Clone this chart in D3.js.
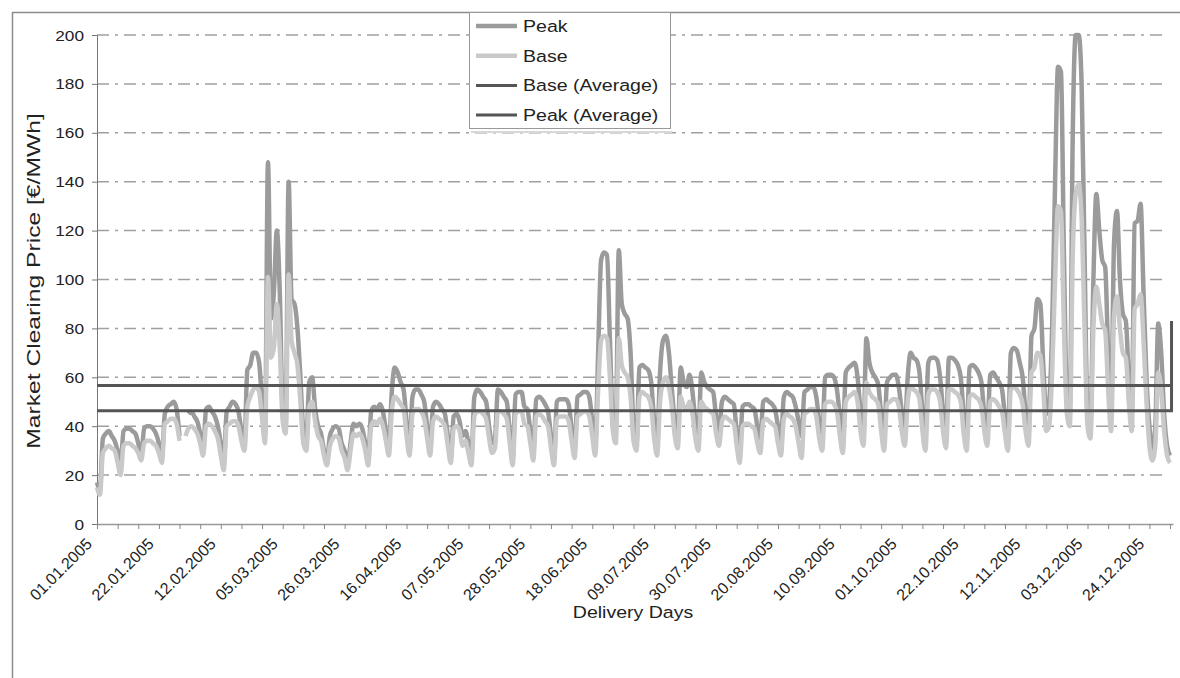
<!DOCTYPE html>
<html>
<head>
<meta charset="utf-8">
<script src="https://cdn.jsdelivr.net/npm/d3@7"></script>
<style>
  body { margin: 0; background: #fff; }
  svg { display: block; font-family: "Liberation Sans", Arial, sans-serif; }
</style>
</head>
<body>
<div id="chart"></div>
<script>
// daily market clearing prices 2005 (EUR/MWh), Sat 01.01 first
var peak = [
  17, 14,
  35, 37, 38, 36, 34, 30, 24,
  38, 39, 39, 38, 37, 33, 28,
  39, 40, 40, 39, 37, 33, 27,
  45, 48, 49, 50, 47, 36, null,
  null, 45, 46, 44, 42, 37, 30,
  47, 48, 46, 44, 40, 33, 25,
  46, 48, 50, 49, 46, 38, 32,
  63, 65, 70, 70, 66, 50, 36,
  148, 84, 95, 120, 95, 45, 40,
  140, 92, 90, 80, 60, 38, 34,
  58, 60, 47, 40, 37, 30, 26,
  36, 39, 40, 39, 33, 30, 24,
  33, 41, 40, 41, 39, 33, 26,
  46, 48, 47, 49, 46, 38, 31,
  54, 64, 62, 58, 55, 42, 30,
  52, 55, 55, 53, 50, 40, 32,
  48, 50, 49, 47, 45, 36, 27,
  44, 45, 42, 36, 38, 33, 27,
  52, 55, 54, 52, 50, 40, 33,
  35, 55, 54, 52, 50, 38, 27,
  53, 54, 54, 48, 47, 38, 30,
  51, 52, 51, 49, 46, 36, 26,
  50, 51, 51, 51, 49, 39, 30,
  52, 53, 54, 54, 52, 42, 32,
  70, 108, 111, 110, 75, 42, 40,
  112, 90, 86, 84, 70, 40, 33,
  64, 65, 64, 63, 58, 42, 33,
  62, 75, 77, 70, 55, 42, 37,
  64, 58, 56, 61, 54, 42, 36,
  62, 58, 56, 55, 54, 44, 38,
  50, 52, 51, 50, 49, 38, 30,
  48, 49, 49, 48, 47, 40, 35,
  50, 51, 50, 49, 47, 40, 34,
  52, 54, 53, 52, 48, 42, 36,
  54, 55, 56, 56, 52, 42, 35,
  60, 61, 61, 60, 55, 44, 35,
  62, 64, 65, 66, 60, 46, 38,
  76, 66, 62, 60, 57, 45, 36,
  58, 60, 61, 61, 56, 46, 38,
  60, 70, 68, 67, 62, 46, 36,
  66, 68, 68, 67, 60, 46, 38,
  68, 68, 67, 65, 60, 45, 36,
  64, 65, 64, 62, 58, 45, 38,
  61, 62, 60, 58, 55, 44, 34,
  70, 72, 71, 66, 60, 45, 37,
  77, 80, 92, 90, 65, 45, 50,
  80, 140, 187, 185, 110, 52, 48,
  160, 200, 200, 180, 110, 45, 40,
  100, 135, 120, 108, 105, 70, 45,
  115, 128, 100, 86, 83, 60, 45,
  123, 124, 131, 95, 60, 40, 30,
  40, 82, 70, 45, 32, 28
];

var base = [
  15, 12,
  29, 31, 32, 31, 30, 25, 20,
  32, 33, 33, 32, 31, 29, 26,
  33, 34, 34, 33, 32, 29, 25,
  41, 42, 43, 43, 41, 34, null,
  36, 39, 40, 39, 37, 33, 28,
  40, 41, 40, 38, 35, 28, 22,
  40, 41, 42, 42, 40, 34, 30,
  48, 52, 55, 56, 54, 43, 33,
  101, 68, 72, 90, 72, 42, 37,
  102, 75, 70, 65, 50, 33, 30,
  48, 50, 42, 36, 34, 28, 24,
  32, 35, 36, 35, 30, 27, 22,
  30, 37, 36, 37, 35, 30, 24,
  40, 42, 41, 43, 40, 34, 28,
  46, 52, 51, 49, 47, 36, 28,
  45, 47, 47, 46, 43, 35, 28,
  42, 44, 43, 42, 40, 32, 25,
  39, 40, 38, 32, 34, 29, 24,
  44, 46, 46, 45, 43, 35, 29,
  31, 46, 46, 45, 43, 33, 24,
  45, 46, 46, 41, 40, 33, 26,
  44, 45, 44, 42, 40, 31, 24,
  43, 44, 44, 44, 42, 34, 27,
  44, 45, 46, 46, 44, 36, 28,
  55, 75, 77, 76, 60, 38, 33,
  76, 65, 62, 60, 52, 34, 30,
  52, 54, 53, 52, 48, 35, 28,
  50, 58, 60, 56, 48, 36, 31,
  52, 48, 47, 50, 45, 35, 30,
  50, 48, 47, 46, 45, 37, 32,
  42, 44, 43, 42, 41, 32, 25,
  40, 41, 41, 40, 39, 33, 29,
  42, 43, 42, 41, 40, 33, 28,
  43, 45, 44, 43, 40, 33, 27,
  45, 46, 47, 47, 44, 35, 30,
  49, 50, 50, 49, 46, 36, 29,
  50, 52, 53, 54, 50, 38, 32,
  58, 54, 52, 51, 49, 38, 30,
  49, 50, 51, 51, 48, 38, 32,
  50, 56, 55, 54, 51, 38, 30,
  53, 55, 55, 54, 50, 38, 31,
  55, 55, 54, 53, 50, 37, 30,
  52, 53, 52, 51, 48, 38, 32,
  50, 51, 50, 48, 46, 37, 30,
  55, 56, 55, 53, 49, 38, 32,
  62, 64, 70, 69, 55, 38, 40,
  62, 100, 130, 128, 80, 45, 40,
  110, 135, 139, 125, 80, 40, 35,
  80, 97, 90, 82, 79, 55, 38,
  85, 93, 80, 70, 68, 50, 38,
  88, 90, 94, 75, 50, 32, 26,
  32, 62, 55, 38, 28, 25
];

// average lines (the base average ends in a jump, as in the original)
var avgDays = [0, 364.5, 364.5];
var baseAvg = [46.3, 46.3, 83];
var peakAvg = [56.6, 56.6, 56.6];

var tickLabels = ["01.01.2005", "22.01.2005", "12.02.2005", "05.03.2005", "26.03.2005",
  "16.04.2005", "07.05.2005", "28.05.2005", "18.06.2005", "09.07.2005", "30.07.2005",
  "20.08.2005", "10.09.2005", "01.10.2005", "22.10.2005", "12.11.2005", "03.12.2005",
  "24.12.2005"];
var yTicks = [0, 20, 40, 60, 80, 100, 120, 140, 160, 180, 200];

var W = 1180, H = 678;
var plotL = 97, plotR = 1173, plotT = 35, plotB = 524;
var stretch = "scale(1.15,1)";

var x = d3.scaleLinear().domain([0, 365]).range([plotL, plotR]);
var y = d3.scaleLinear().domain([0, 200]).range([plotB, plotT]);

var svg = d3.select("#chart").append("svg")
  .attr("width", W).attr("height", H);

// outer chart frame
svg.append("rect")
  .attr("x", 12.5).attr("y", 12.5)
  .attr("width", W + 20).attr("height", H + 20)
  .attr("fill", "#fff").attr("stroke", "#8c8c8c").attr("stroke-width", 1.5);

// grid
svg.append("g").selectAll("line")
  .data(yTicks.filter(function (d) { return d > 0; }))
  .join("line")
  .attr("x1", plotL).attr("x2", plotR - 6)
  .attr("y1", function (d) { return y(d); })
  .attr("y2", function (d) { return y(d); })
  .attr("stroke", "#a0a0a0").attr("stroke-width", 1.5)
  .attr("stroke-dasharray", "12,6,3,6");

// y axis
var yAxis = svg.append("g").attr("transform", "translate(" + plotL + ",0)")
  .call(d3.axisLeft(y).tickValues(yTicks).tickSize(5).tickSizeOuter(0).tickFormat(""));
yAxis.select(".domain").attr("stroke", "#777");
yAxis.selectAll(".tick line").attr("stroke", "#777");

svg.append("g").selectAll("text")
  .data(yTicks)
  .join("text")
  .attr("transform", function (d) { return "translate(84," + (y(d) + 5.5) + ") " + stretch; })
  .attr("text-anchor", "end")
  .attr("font-size", 15)
  .attr("fill", "#222")
  .text(function (d) { return d; });

// x axis, minor ticks every week
var weekTicks = d3.range(0, 365, 7);
var xAxis = svg.append("g").attr("transform", "translate(0," + plotB + ")")
  .call(d3.axisBottom(x).tickValues(weekTicks).tickSize(5).tickSizeOuter(0).tickFormat(""));
xAxis.select(".domain").attr("stroke", "#999").attr("stroke-width", 1.5);
xAxis.selectAll(".tick line").attr("stroke", "#888");

svg.append("g").selectAll("text")
  .data(tickLabels)
  .join("text")
  .attr("transform", function (d, i) {
    return "translate(" + (x(i * 21) - 4) + "," + (plotB + 21) + ") rotate(-45)";
  })
  .attr("text-anchor", "end")
  .attr("font-size", 16)
  .attr("fill", "#222")
  .text(function (d) { return d; });

// axis titles
svg.append("text")
  .attr("transform", "translate(633,618) " + stretch)
  .attr("text-anchor", "middle")
  .attr("font-size", 17)
  .attr("fill", "#222")
  .text("Delivery Days");

svg.append("text")
  .attr("transform", "translate(40,281) rotate(-90) scale(1.45,1.05)")
  .attr("text-anchor", "middle")
  .attr("font-size", 17)
  .attr("fill", "#222")
  .text("Market Clearing Price [€/MWh]");

// series
var line = d3.line()
  .defined(function (d) { return d != null; })
  .x(function (d, i) { return x(i); })
  .y(function (d) { return y(d); })
  .curve(d3.curveMonotoneX);

svg.append("path").datum(peak)
  .attr("d", line)
  .attr("fill", "none").attr("stroke", "#9b9b9b").attr("stroke-width", 4.5)
  .attr("stroke-linejoin", "round");

svg.append("path").datum(base)
  .attr("d", line)
  .attr("fill", "none").attr("stroke", "#c9c9c9").attr("stroke-width", 4.5)
  .attr("stroke-linejoin", "round");

var avgLine = d3.line()
  .x(function (d) { return x(d[0]); })
  .y(function (d) { return y(d[1]); });

svg.append("path").datum(d3.zip(avgDays, baseAvg))
  .attr("d", avgLine)
  .attr("fill", "none").attr("stroke", "#555").attr("stroke-width", 3);

svg.append("path").datum(d3.zip(avgDays, peakAvg))
  .attr("d", avgLine)
  .attr("fill", "none").attr("stroke", "#555").attr("stroke-width", 3);

// legend
var legendItems = [
  { name: "Peak", color: "#9b9b9b", width: 4.5 },
  { name: "Base", color: "#c9c9c9", width: 4.5 },
  { name: "Base (Average)", color: "#555", width: 3 },
  { name: "Peak (Average)", color: "#555", width: 3 }
];

var legend = svg.append("g");
legend.append("rect")
  .attr("x", 471).attr("y", 131)
  .attr("width", 201).attr("height", 2)
  .attr("fill", "#d8d8d8");
legend.append("rect")
  .attr("x", 469.5).attr("y", 12.5)
  .attr("width", 201).attr("height", 116)
  .attr("fill", "#fff").attr("stroke", "#999").attr("stroke-width", 1);

var rows = legend.selectAll("g.item")
  .data(legendItems)
  .join("g")
  .attr("class", "item")
  .attr("transform", function (d, i) { return "translate(0," + (26 + i * 29.7) + ")"; });

rows.append("line")
  .attr("x1", 476).attr("x2", 517)
  .attr("stroke", function (d) { return d.color; })
  .attr("stroke-width", function (d) { return d.width; });

rows.append("text")
  .attr("transform", "translate(523,6) " + stretch)
  .attr("font-size", 17)
  .attr("fill", "#222")
  .text(function (d) { return d.name; });
</script>
</body>
</html>
